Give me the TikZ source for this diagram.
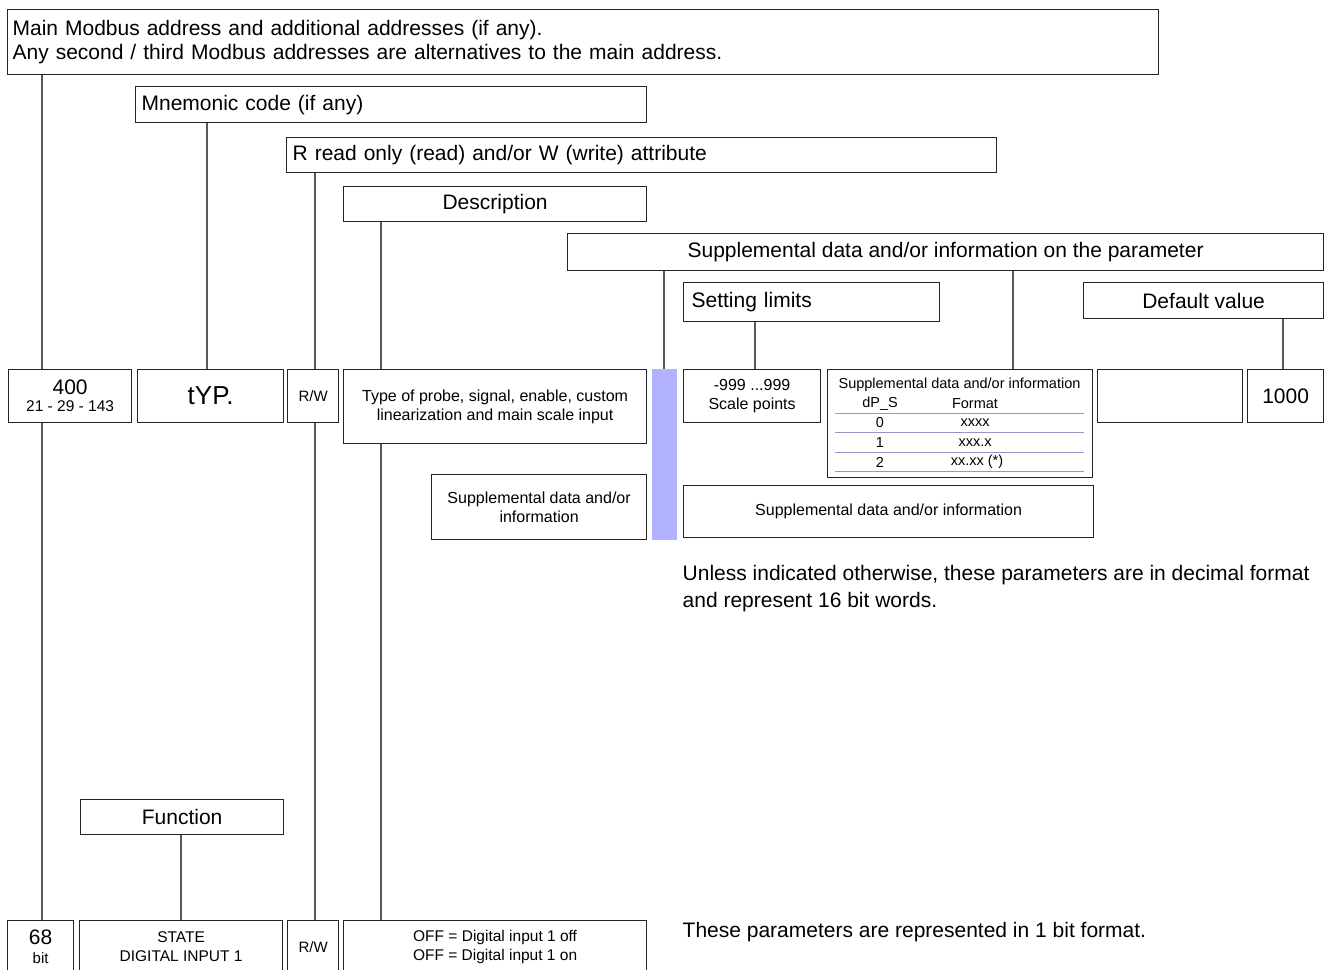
\documentclass[tikz,border=0pt]{standalone}
\usepackage{fontspec}
\setmainfont{Liberation Sans}
\definecolor{barblue}{RGB}{178,178,255}
\definecolor{rulecol}{RGB}{150,150,205}
\begin{document}
\begin{tikzpicture}[x=1pt,y=-1pt,
  box/.style={draw=black!85, line width=1.2pt, inner sep=0pt, anchor=north west},
  cbox/.style 2 args={box, minimum width=#1pt, minimum height=#2pt, align=center},
  lbox/.style n args={3}{box, minimum width=#1pt, minimum height=#2pt, text width=#3pt, align=left},
  link/.style={draw=black!65, line width=1.2pt},
  tabline/.style={draw=rulecol, line width=1pt},
  fL/.style={font=\fontsize{21}{24}\selectfont},
  fM/.style={font=\fontsize{16}{19}\selectfont},
  fB/.style={font=\fontsize{15.5}{19}\selectfont},
  fS/.style={font=\fontsize{14.5}{19}\selectfont},
  plain/.style={inner sep=0pt},
]
\useasboundingbox (0,0) rectangle (1337,969);
\clip (0,0) rectangle (1337,969);

% column positions of the vertical leaders
\coordinate (colAddr) at (42,0);
\coordinate (colMnem) at (207,0);
\coordinate (colRW)   at (315,0);
\coordinate (colDesc) at (381,0);
\coordinate (colBar)  at (664,0);
\coordinate (colLim)  at (755,0);
\coordinate (colTab)  at (1013,0);
\coordinate (colDef)  at (1283,0);
\coordinate (colFunc) at (181,0);

% legend headers
\node[lbox={1151}{65}{1141}, inner xsep=5pt, fL] (main) at (7,9)
  {Main Modbus address and additional addresses (if any).\\Any second / third Modbus addresses are alternatives to the main address.};
\node[lbox={511}{36}{499}, inner xsep=6pt, fL] (mnem) at (135,86) {Mnemonic code (if any)};
\node[lbox={710}{35}{698}, inner xsep=6pt, fL] (rwhead) at (286,137) {R read only (read) and/or W (write) attribute};
\node[cbox={303}{35}, fL] (deschead) at (343,186) {Description};
\node[cbox={756}{37}, fL] (supp) at (567,233) {Supplemental data and/or information on the parameter};
\node[lbox={256}{39}{240}, inner xsep=8pt, fL] (limhead) at (683,282) {Setting limits};
\node[cbox={240}{36}, fL] (defhead) at (1083,282) {Default value};

% word parameter row
\node[cbox={123}{53}, font=\fontsize{15.5}{17}\selectfont] (b400) at (8,369)
  {{\fontsize{21}{17}\selectfont 400}\\21 - 29 - 143};
\node[cbox={146}{53}, font=\fontsize{26}{28}\selectfont] (btyp) at (137,369) {tYP.};
\node[cbox={51}{53}, font=\fontsize{15}{18}\selectfont] (brw) at (287,369) {R/W};
\node[cbox={303}{74}, fM] (bdesc) at (343,369)
  {Type of probe, signal, enable, custom\\linearization and main scale input};
\node[anchor=north west, fill=barblue, minimum width=25pt, minimum height=171pt, inner sep=0pt] (bar) at (652,369) {};
\node[cbox={137}{53}, fM] (blim) at (683,369) {-999 ...999\\Scale points};
\node[box, minimum width=265pt, minimum height=108pt] (btab) at (827,369) {};
\node[cbox={145}{53}] (bempty) at (1097,369) {};
\node[cbox={76}{53}, fL] (b1000) at (1247,369) {1000};

% format table inside the supplemental box
\node[plain, fS] (tabtitle) at (959.5,385) {Supplemental data and/or information};
\node[plain, fS] (tabh1) at (880,404) {dP\_S};
\node[plain, fS] (tabh2) at (975,404) {Format};
\node[plain, fS] (tr0a) at (880,423) {0};
\node[plain, fS] (tr0b) at (975,423) {xxxx};
\node[plain, fS] (tr1a) at (880,443) {1};
\node[plain, fS] (tr1b) at (975,443) {xxx.x};
\node[plain, fS] (tr2a) at (880,462) {2};
\node[plain, fS] (tr2b) at (977,462) {xx.xx (*)};
\foreach \yy in {413,432,452,471} \draw[tabline] (835,\yy) -- (1084,\yy);

% supplemental notes
\node[cbox={215}{65}, fM] (bsupL) at (431,474) {Supplemental data and/or\\information};
\node[cbox={410}{52}, fM] (bsupR) at (683,485) {Supplemental data and/or information};

\node[plain, anchor=west, align=left, font=\fontsize{21}{27}\selectfont] (note16) at (682.5,588.5)
  {Unless indicated otherwise, these parameters are in decimal format\\and represent 16 bit words.};

% bit parameter row
\node[cbox={203}{35}, fL] (func) at (80,799) {Function};
\node[cbox={66}{53}, font=\fontsize{15}{19}\selectfont] (b68) at (7,920)
  {{\fontsize{21}{19}\selectfont 68}\\bit};
\node[cbox={203}{53}, fB] (bstate) at (79,920) {STATE\\DIGITAL INPUT 1};
\node[cbox={51}{53}, font=\fontsize{15}{18}\selectfont] (brw2) at (287,920) {R/W};
\node[cbox={303}{53}, fB] (boff) at (343,920) {OFF = Digital input 1 off\\OFF = Digital input 1 on};
\node[plain, anchor=west, fL] (note1) at (682.5,932) {These parameters are represented in 1 bit format.};

% leaders
\draw[link] (main.south -| colAddr) -- (b400.north -| colAddr);
\draw[link] (b400.south -| colAddr) -- (b68.north -| colAddr);
\draw[link] (mnem.south -| colMnem) -- (btyp.north -| colMnem);
\draw[link] (rwhead.south -| colRW) -- (brw.north -| colRW);
\draw[link] (brw.south -| colRW) -- (brw2.north -| colRW);
\draw[link] (deschead.south -| colDesc) -- (bdesc.north -| colDesc);
\draw[link] (bdesc.south -| colDesc) -- (boff.north -| colDesc);
\draw[link] (supp.south -| colBar) -- (bar.north -| colBar);
\draw[link] (supp.south -| colTab) -- (btab.north -| colTab);
\draw[link] (limhead.south -| colLim) -- (blim.north -| colLim);
\draw[link] (defhead.south -| colDef) -- (b1000.north -| colDef);
\draw[link] (func.south -| colFunc) -- (bstate.north -| colFunc);
\end{tikzpicture}
\end{document}
